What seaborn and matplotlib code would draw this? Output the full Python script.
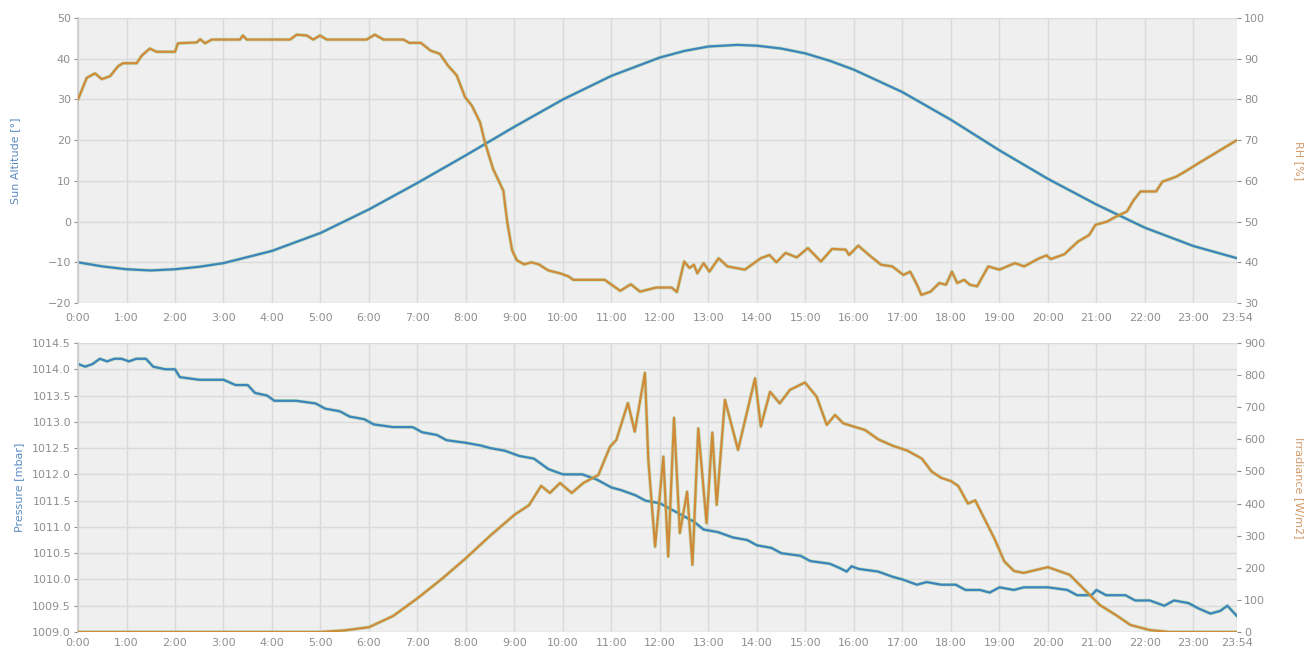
import matplotlib
matplotlib.use("Agg")
import matplotlib.pyplot as plt
import seaborn as sns
import pandas as pd

# ---------------- data (hours of day) ----------------
tick_hours = list(range(0, 24)) + [23.9]
tick_labels = [f"{h}:00" for h in range(0, 24)] + ["23:54"]

sun_t = [0, 0.5, 1, 1.5, 2, 2.5, 3, 4, 5, 6, 7, 8, 9, 10, 11, 12, 12.5, 13, 13.6, 14, 14.5, 15, 15.5, 16,
         17, 18, 19, 20, 21, 22, 23, 23.9]
sun_alt = [-10, -11.0, -11.7, -12.0, -11.7, -11.1, -10.2, -7.2, -2.8, 3.0, 9.5, 16.3, 23.3, 30.0, 35.8,
           40.3, 41.9, 43.0, 43.4, 43.2, 42.5, 41.3, 39.5, 37.3, 31.8, 25.0, 17.5, 10.5, 4.2, -1.5, -6.0, -9.0]

rh_t = [0.0, 0.18, 0.35, 0.49, 0.66, 0.83, 0.93, 1.21, 1.31, 1.48, 1.62, 2.0, 2.06, 2.45, 2.52, 2.62, 2.76,
        3.34, 3.40, 3.48, 4.37, 4.51, 4.72, 4.85, 4.99, 5.13, 5.95, 6.12, 6.3, 6.71, 6.83, 7.07, 7.27, 7.46,
        7.63, 7.81, 7.98, 8.12, 8.29, 8.39, 8.56, 8.77, 8.85, 8.95, 9.05, 9.2, 9.35, 9.5, 9.7, 9.94, 10.12,
        10.21, 10.86, 11.18, 11.40, 11.59, 11.92, 12.24, 12.35, 12.50, 12.61, 12.70, 12.77, 12.90, 13.02,
        13.21, 13.39, 13.75, 14.08, 14.26, 14.40, 14.59, 14.82, 15.05, 15.32, 15.55, 15.83, 15.90, 16.09,
        16.29, 16.56, 16.79, 17.02, 17.16, 17.30, 17.39, 17.58, 17.76, 17.90, 18.02, 18.13, 18.27, 18.39,
        18.54, 18.77, 19.00, 19.32, 19.51, 19.79, 19.97, 20.06, 20.34, 20.62, 20.85, 20.98, 21.22, 21.40,
        21.63, 21.77, 21.91, 22.23, 22.36, 22.64, 22.83, 23.10, 23.38, 23.56, 23.84, 23.9]
rh_val = [80.0, 85.3, 86.4, 85.0, 85.7, 88.2, 88.9, 88.9, 90.7, 92.5, 91.7, 91.7, 93.8, 94.0, 94.8, 93.8, 94.7,
          94.7, 95.7, 94.7, 94.7, 95.9, 95.7, 94.7, 95.7, 94.7, 94.7, 95.9, 94.7, 94.7, 93.9, 93.9, 92.0, 91.2,
          88.3, 85.9, 80.6, 78.5, 74.4, 69.5, 62.9, 57.6, 50.0, 43.0, 40.5, 39.5, 40.0, 39.5, 38.0, 37.3, 36.5,
          35.7, 35.7, 33.0, 34.6, 32.8, 33.8, 33.8, 32.7, 40.2, 38.6, 39.4, 37.3, 39.8, 37.7,
          41.0, 39.0, 38.2, 41.0, 41.8, 40.0, 42.3, 41.2, 43.5, 40.2, 43.3, 43.1, 41.8, 44.1,
          42.0, 39.4, 39.0, 36.9, 37.7, 34.5, 32.0, 32.8, 34.9, 34.5, 37.7, 34.9, 35.7, 34.5,
          34.1, 39.0, 38.2, 39.8, 39.0, 40.8, 41.7, 40.8, 42.0, 45.1, 46.7, 49.2, 50.0, 51.2,
          52.5, 55.3, 57.4, 57.4, 59.8, 61.0, 62.3, 64.3, 66.3, 67.6, 69.6, 70.0]

pres_t = [0.0, 0.15, 0.3, 0.45, 0.6, 0.75, 0.9, 1.05, 1.2, 1.4, 1.55, 1.8, 2.0, 2.1, 2.5, 3.0, 3.25, 3.5,
          3.65, 3.9, 4.05, 4.5, 4.9, 5.1, 5.4, 5.6, 5.9, 6.1, 6.5, 6.9, 7.1, 7.4, 7.6, 8.0, 8.3, 8.5, 8.8,
          9.1, 9.4, 9.7, 10.0, 10.4, 10.7, 11.0, 11.2, 11.5, 11.7, 12.0, 12.2, 12.5, 12.7, 12.9, 13.2, 13.5,
          13.8, 14.0, 14.3, 14.5, 14.9, 15.1, 15.5, 15.7, 15.85, 15.95, 16.1, 16.5, 16.8, 17.0, 17.3, 17.5,
          17.8, 18.1, 18.3, 18.6, 18.8, 19.0, 19.3, 19.5, 20.0, 20.4, 20.6, 20.9, 21.0, 21.2, 21.6, 21.8,
          22.1, 22.4, 22.6, 22.9, 23.1, 23.35, 23.55, 23.7, 23.9]
pres_val = [1014.10, 1014.05, 1014.10, 1014.20, 1014.15, 1014.20, 1014.20, 1014.15, 1014.20, 1014.20,
            1014.05, 1014.00, 1014.00, 1013.85, 1013.80, 1013.80, 1013.70, 1013.70, 1013.55, 1013.50,
            1013.40, 1013.40, 1013.35, 1013.25, 1013.20, 1013.10, 1013.05, 1012.95, 1012.90, 1012.90,
            1012.80, 1012.75, 1012.65, 1012.60, 1012.55, 1012.50, 1012.45, 1012.35, 1012.30, 1012.10,
            1012.00, 1012.00, 1011.90, 1011.75, 1011.70, 1011.60, 1011.50, 1011.45, 1011.35, 1011.20,
            1011.10, 1010.95, 1010.90, 1010.80, 1010.75, 1010.65, 1010.60, 1010.50, 1010.45, 1010.35,
            1010.30, 1010.22, 1010.15, 1010.25, 1010.20, 1010.15, 1010.05, 1010.00, 1009.90, 1009.95,
            1009.90, 1009.90, 1009.80, 1009.80, 1009.75, 1009.85, 1009.80, 1009.85, 1009.85, 1009.80,
            1009.70, 1009.70, 1009.80, 1009.70, 1009.70, 1009.60, 1009.60, 1009.50, 1009.60, 1009.55,
            1009.45, 1009.35, 1009.40, 1009.50, 1009.30]

irr_t = [0.0, 5.0, 5.5, 6.0, 6.5, 7.0, 7.5, 8.0, 8.5, 9.0, 9.3, 9.55, 9.73, 9.94, 10.18, 10.42, 10.73,
         10.97, 11.1, 11.34, 11.48, 11.69, 11.76, 11.9, 12.07, 12.17, 12.29, 12.41, 12.56, 12.67, 12.79,
         12.96, 13.08, 13.17, 13.34, 13.61, 13.96, 14.08, 14.27, 14.47, 14.68, 14.99, 15.23, 15.44, 15.61,
         15.78, 15.99, 16.23, 16.5, 16.8, 17.1, 17.4, 17.6, 17.8, 18.0, 18.15, 18.35, 18.5, 18.7, 18.9,
         19.1, 19.3, 19.5, 20.0, 20.45, 20.76, 21.07, 21.4, 21.7, 22.1, 22.5, 23.9]
irr_val = [0, 0, 5, 15, 50, 105, 165, 230, 300, 365, 395, 455, 433, 464, 433, 464, 489,
           577, 598, 713, 624, 807, 536, 266, 546, 235, 667, 308, 437, 209, 634,
           339, 621, 396, 723, 567, 790, 640, 748, 712, 754, 777, 733, 645, 676,
           650, 640, 629, 600, 580, 565, 540, 500, 480, 470, 455, 400, 410, 350, 290,
           220, 190, 184, 202, 178, 131, 84, 53, 22, 6, 0, 0]

# ---------------- style ----------------
sns.set_theme(style="white")
plt.rcParams["font.family"] = ["DejaVu Sans"]

BG = "#efefef"
GRID = "#dadada"
BLUE = "#3b84bd"
ORANGE = "#d18a38"
UNDER = "#86c77f"
TICKC = "#8f8f8f"

fig = plt.figure(figsize=(13.11, 6.5), dpi=100)
ax_top = fig.add_axes([0.0595, 0.5338, 0.8841, 0.4385])
ax_bot = fig.add_axes([0.0595, 0.0277, 0.8841, 0.4446])


def style_axes(ax, ax2, xpad):
    ax.set_facecolor(BG)
    ax.set_xlim(0, 23.9)
    ax.set_xticks(tick_hours)
    ax.set_xticklabels(tick_labels)
    ax.grid(True, color=GRID, linewidth=1.0)
    ax.set_axisbelow(True)
    for a in (ax, ax2):
        for s in a.spines.values():
            s.set_visible(False)
        a.tick_params(colors=TICKC, labelsize=8, length=3, width=0.8, pad=2)
        a.tick_params(axis="x", length=0, pad=xpad)
        a.set_xlabel("")
    ax.spines["left"].set_visible(True)
    ax.spines["left"].set_color("#cccccc")


def draw(ax, t, v, color):
    df = pd.DataFrame({"t": t, "v": v})
    sns.lineplot(data=df, x="t", y="v", ax=ax, color=UNDER, linewidth=2.6, alpha=0.45, estimator=None, sort=False)
    sns.lineplot(data=df, x="t", y="v", ax=ax, color=color, linewidth=1.6, estimator=None, sort=False)


# top panel
ax_top2 = ax_top.twinx()
draw(ax_top, sun_t, sun_alt, BLUE)
draw(ax_top2, rh_t, rh_val, ORANGE)
ax_top.set_ylim(-20, 50)
ax_top.set_yticks(range(-20, 51, 10))
ax_top2.set_ylim(30, 100)
ax_top2.set_yticks(range(30, 101, 10))
style_axes(ax_top, ax_top2, 7)
ax_top.set_ylabel("Sun Altitude [°]", color="#5b8cc0", fontsize=8, labelpad=20)
ax_top2.set_ylabel("RH [%]", color="#d09a6a", fontsize=8, rotation=270, labelpad=28)

# bottom panel
ax_bot2 = ax_bot.twinx()
draw(ax_bot, pres_t, pres_val, BLUE)
draw(ax_bot2, irr_t, irr_val, ORANGE)
ax_bot.set_ylim(1009.0, 1014.5)
ax_bot.set_yticks([1009.0 + 0.5 * i for i in range(12)])
ax_bot.set_yticklabels([f"{1009.0 + 0.5 * i:.1f}" for i in range(12)])
ax_bot2.set_ylim(0, 900)
ax_bot2.set_yticks(range(0, 901, 100))
style_axes(ax_bot, ax_bot2, 4)
ax_bot.set_ylabel("Pressure [mbar]", color="#5b8cc0", fontsize=8, labelpad=6)
ax_bot2.set_ylabel("Irradiance [W/m2]", color="#d09a6a", fontsize=8, rotation=270, labelpad=28)

fig.savefig("out.png", dpi=100, facecolor="white")
